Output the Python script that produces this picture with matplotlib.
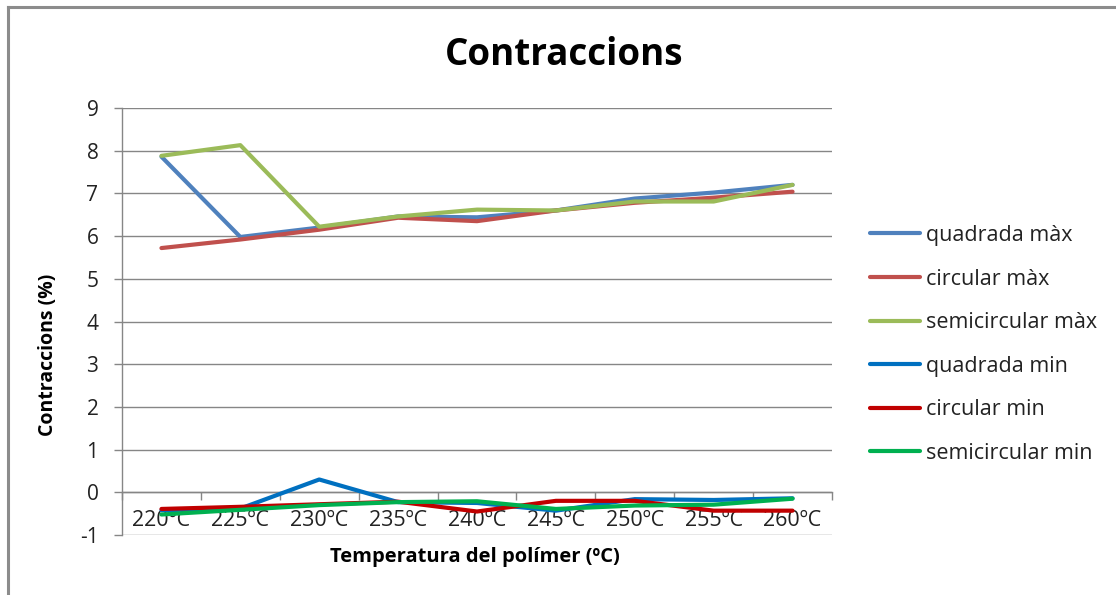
import matplotlib
matplotlib.use("Agg")
import matplotlib.pyplot as plt
from matplotlib.lines import Line2D

plt.rcParams['font.family'] = ['Open Sans', 'DejaVu Sans']
plt.rcParams['axes.unicode_minus'] = False

categories = ["220ºC", "225ºC", "230ºC", "235ºC", "240ºC",
              "245ºC", "250ºC", "255ºC", "260ºC"]

quadrada_max = [7.86, 5.98, 6.20, 6.46, 6.44, 6.60, 6.88, 7.02, 7.20]
circular_max = [5.72, 5.92, 6.15, 6.43, 6.35, 6.60, 6.78, 6.90, 7.04]
semicircular_max = [7.88, 8.13, 6.22, 6.46, 6.62, 6.60, 6.81, 6.81, 7.20]
quadrada_min = [-0.42, -0.38, 0.30, -0.23, -0.25, -0.43, -0.16, -0.18, -0.14]
circular_min = [-0.39, -0.34, -0.28, -0.22, -0.45, -0.20, -0.20, -0.43, -0.43]
semicircular_min = [-0.52, -0.41, -0.30, -0.23, -0.21, -0.39, -0.31, -0.29, -0.15]

series = [
    ("quadrada màx", quadrada_max, "#4F81BD"),
    ("circular màx", circular_max, "#C0504D"),
    ("semicircular màx", semicircular_max, "#9BBB59"),
    ("quadrada min", quadrada_min, "#0070C0"),
    ("circular min", circular_min, "#C00000"),
    ("semicircular min", semicircular_min, "#00B050"),
]

W, H = 1116, 595
fig = plt.figure(figsize=(W / 100, H / 100), dpi=100)
fig.patch.set_facecolor("white")

# outer chart frame (top and left edges)
frame_col = "#8C8C8C"
fig.add_artist(Line2D([8 / W, 1.0], [1 - 7 / H, 1 - 7 / H], transform=fig.transFigure,
                      color=frame_col, lw=2.2))
fig.add_artist(Line2D([8 / W, 8 / W], [0.0, 1 - 7 / H], transform=fig.transFigure,
                      color=frame_col, lw=2.2))

left, right, top, bottom = 122, 832, 108, 535
ax = fig.add_axes([left / W, 1 - bottom / H, (right - left) / W, (bottom - top) / H])

x = list(range(len(categories)))
for name, vals, col in series:
    ax.plot(x, vals, color=col, lw=3.0, solid_joinstyle="round",
            solid_capstyle="round", label=name, zorder=3)

grid_col = "#868686"
text_col = "#222222"
ax.set_xlim(-0.5, len(categories) - 0.5)
ax.set_ylim(-1, 9)
ax.set_yticks(range(-1, 10))
ax.yaxis.grid(True, color=grid_col, lw=1.0)
ax.set_axisbelow(True)

for s in ["top", "right"]:
    ax.spines[s].set_visible(False)
ax.spines["left"].set_color(grid_col)
ax.spines["left"].set_linewidth(1.0)
ax.spines["bottom"].set_position(("data", 0))
ax.spines["bottom"].set_color(grid_col)
ax.spines["bottom"].set_linewidth(1.0)

ax.tick_params(axis="y", direction="out", length=6, width=1.0, color=grid_col,
               pad=11, labelsize=15, labelcolor=text_col)

# category labels centred, tick marks between categories
ax.set_xticks(x)
ax.set_xticklabels(categories)
ax.tick_params(axis="x", which="major", length=0, pad=13, labelsize=15.5,
               labelcolor=text_col)
ax.set_xticks([i - 0.5 for i in range(len(categories) + 1)], minor=True)
ax.tick_params(axis="x", which="minor", direction="out", length=6, width=1.0,
               color=grid_col)

fig.text(564 / W, 1 - 55 / H, "Contraccions", ha="center",
         va="center", fontsize=26.5, fontweight="bold", color="black")
fig.text(475 / W, 1 - 557 / H, "Temperatura del polímer (ºC)", ha="center",
         va="center", fontsize=14.5, fontweight="bold", color="black")
fig.text(48 / W, 1 - 355 / H, "Contraccions (%)", ha="center", va="center",
         rotation=90, fontsize=14, fontweight="bold", color="black")

ax.legend(loc="upper left", bbox_to_anchor=(870 / W, 1 - 225 / H),
          bbox_transform=fig.transFigure, frameon=False, fontsize=15.5,
          handlelength=2.3, handletextpad=0.3, labelspacing=1.05,
          labelcolor=text_col, borderaxespad=0, borderpad=0)

fig.savefig("out.png", dpi=100)
